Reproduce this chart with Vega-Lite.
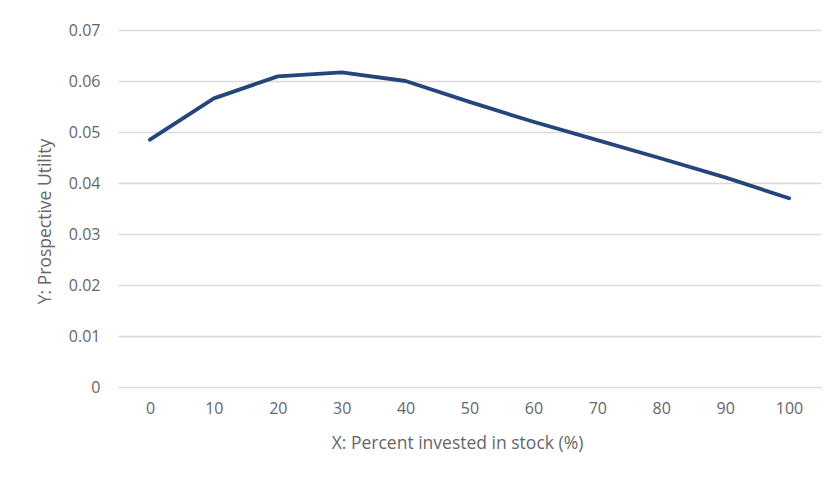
{
  "$schema": "https://vega.github.io/schema/vega-lite/v6.json",
  "autosize": {"type": "none"},
  "width": 703,
  "height": 357,
  "padding": {"left": 118, "top": 30, "right": 15, "bottom": 92},
  "background": "white",
  "config": {
    "view": {"stroke": null},
    "font": "Open Sans",
    "axis": {
      "labelFont": "Open Sans",
      "titleFont": "Open Sans",
      "labelColor": "#666666",
      "titleColor": "#666666",
      "labelFontSize": 16,
      "titleFontSize": 17.5,
      "titleFontWeight": "normal",
      "ticks": false,
      "domain": false,
      "gridColor": "#d9d9d9",
      "gridWidth": 1.3
    }
  },
  "data": {
    "values": [
      {"x": 0, "y": 0.0485},
      {"x": 10, "y": 0.0566},
      {"x": 20, "y": 0.0609},
      {"x": 30, "y": 0.0617},
      {"x": 40, "y": 0.06},
      {"x": 50, "y": 0.0559},
      {"x": 60, "y": 0.052},
      {"x": 70, "y": 0.0484},
      {"x": 80, "y": 0.0448},
      {"x": 90, "y": 0.0411},
      {"x": 100, "y": 0.037}
    ]
  },
  "mark": {"type": "line", "color": "#24467a", "strokeWidth": 3.8, "strokeJoin": "round", "strokeCap": "round"},
  "encoding": {
    "x": {
      "field": "x",
      "type": "ordinal",
      "sort": null,
      "scale": {"type": "point", "padding": 0.5},
      "axis": {
        "title": "X: Percent invested in stock (%)",
        "labelAngle": 0,
        "labelPadding": 13,
        "titlePadding": 18,
        "titleX": 339,
        "grid": false
      }
    },
    "y": {
      "field": "y",
      "type": "quantitative",
      "scale": {"domain": [0, 0.07], "nice": false, "zero": true},
      "axis": {
        "title": "Y: Prospective Utility",
        "values": [0, 0.01, 0.02, 0.03, 0.04, 0.05, 0.06, 0.07],
        "format": ".2~f",
        "labelPadding": 18,
        "grid": true,
        "titleBaseline": "middle",
        "titleX": -73,
        "titleY": 191
      }
    }
  }
}
